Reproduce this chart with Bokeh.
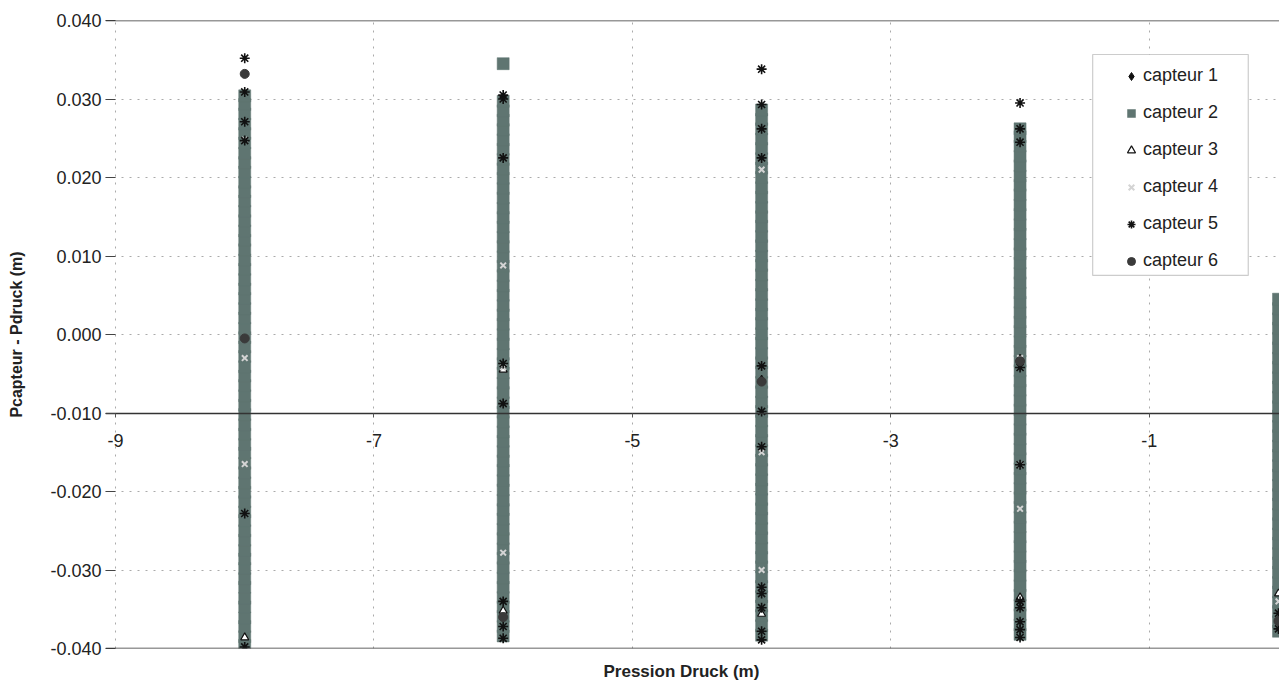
from bokeh.plotting import figure
from bokeh.models import (Range1d, FixedTicker, NumeralTickFormatter, Span,
                          BoxAnnotation, Legend, LegendItem, Title)
from bokeh.embed import file_html
from bokeh.resources import INLINE

# ---------------- data ----------------
columns = [-8, -6, -4, -2, 0]
x_ticks = [-9, -7, -5, -3, -1]
y_ticks = [-0.04, -0.03, -0.02, -0.01, 0.0, 0.01, 0.02, 0.03, 0.04]
series_names = ["capteur 1", "capteur 2", "capteur 3", "capteur 4", "capteur 5", "capteur 6"]

# capteur 1 (diamonds)
cap1_m8 = [-0.0135, -0.0146, 0.0175]
cap1_m6 = [-0.0120, 0.0150]
cap1_m4 = [0.0015, -0.0205]
cap1_m2 = [-0.0100, 0.0120]
cap1_0 = [-0.0250]

# capteur 2 (grey-green squares, dense bands)
cap2_m8 = [-0.0396, -0.0385, -0.0372, -0.0361, -0.0347, -0.0336, -0.0322, -0.0311, -0.0298,
           -0.0286, -0.0275, -0.0262, -0.0250, -0.0237, -0.0226, -0.0213, -0.0201, -0.0189,
           -0.0176, -0.0164, -0.0151, -0.0140, -0.0127, -0.0115, -0.0102, -0.0090, -0.0078,
           -0.0065, -0.0053, -0.0041, -0.0028, -0.0016, -0.0004, 0.0008, 0.0021, 0.0033,
           0.0046, 0.0058, 0.0070, 0.0083, 0.0095, 0.0108, 0.0120, 0.0132, 0.0145, 0.0157,
           0.0170, 0.0182, 0.0194, 0.0207, 0.0219, 0.0231, 0.0244, 0.0256, 0.0268, 0.0281,
           0.0293, 0.0304]
cap2_m6 = [0.0345, -0.0384, -0.0372, -0.0359, -0.0347, -0.0335, -0.0322, -0.0310, -0.0297,
           -0.0285, -0.0273, -0.0260, -0.0248, -0.0235, -0.0223, -0.0211, -0.0198, -0.0186,
           -0.0173, -0.0161, -0.0149, -0.0136, -0.0124, -0.0111, -0.0099, -0.0087, -0.0074,
           -0.0062, -0.0049, -0.0037, -0.0025, -0.0012, 0.0000, 0.0013, 0.0025, 0.0037,
           0.0050, 0.0062, 0.0075, 0.0087, 0.0099, 0.0112, 0.0124, 0.0137, 0.0149, 0.0161,
           0.0174, 0.0186, 0.0199, 0.0211, 0.0223, 0.0236, 0.0248, 0.0261, 0.0273, 0.0285,
           0.0297]
cap2_m4 = [-0.0383, -0.0371, -0.0358, -0.0346, -0.0334, -0.0321, -0.0309, -0.0296, -0.0284,
           -0.0272, -0.0259, -0.0247, -0.0234, -0.0222, -0.0210, -0.0197, -0.0185, -0.0172,
           -0.0160, -0.0148, -0.0135, -0.0123, -0.0110, -0.0098, -0.0086, -0.0073, -0.0061,
           -0.0048, -0.0036, -0.0024, -0.0011, 0.0001, 0.0014, 0.0026, 0.0038, 0.0051,
           0.0063, 0.0076, 0.0088, 0.0100, 0.0113, 0.0125, 0.0138, 0.0150, 0.0162, 0.0175,
           0.0187, 0.0200, 0.0212, 0.0224, 0.0237, 0.0249, 0.0262, 0.0274, 0.0286]
cap2_m2 = [-0.0382, -0.0370, -0.0357, -0.0345, -0.0332, -0.0320, -0.0307, -0.0295, -0.0283,
           -0.0270, -0.0258, -0.0245, -0.0233, -0.0220, -0.0208, -0.0196, -0.0183, -0.0171,
           -0.0158, -0.0146, -0.0133, -0.0121, -0.0108, -0.0096, -0.0084, -0.0071, -0.0059,
           -0.0046, -0.0034, -0.0021, -0.0009, 0.0004, 0.0016, 0.0028, 0.0041, 0.0053,
           0.0066, 0.0078, 0.0091, 0.0103, 0.0115, 0.0128, 0.0140, 0.0153, 0.0165, 0.0178,
           0.0190, 0.0202, 0.0215, 0.0227, 0.0240, 0.0252, 0.0262]
cap2_0 = [-0.0378, -0.0366, -0.0353, -0.0341, -0.0328, -0.0316, -0.0303, -0.0291, -0.0279,
          -0.0266, -0.0254, -0.0241, -0.0229, -0.0216, -0.0204, -0.0192, -0.0179, -0.0167,
          -0.0154, -0.0142, -0.0129, -0.0117, -0.0104, -0.0092, -0.0080, -0.0067, -0.0055,
          -0.0042, -0.0030, -0.0017, -0.0005, 0.0008, 0.0020, 0.0033, 0.0045]

# capteur 3 (open triangles)
cap3_m8 = [-0.0386]
cap3_m6 = [-0.0352, -0.0045]
cap3_m4 = [-0.0058, -0.0356]
cap3_m2 = [-0.0031, -0.0335]
cap3_0 = [-0.0330]

# capteur 4 (light grey crosses)
cap4_m8 = [-0.0165, 0.0248, -0.0030]
cap4_m6 = [-0.0042, -0.0278, 0.0088]
cap4_m4 = [-0.0300, 0.0210, -0.0150]
cap4_m2 = [-0.0166, -0.0222, -0.0030]
cap4_0 = [-0.0340]

# capteur 5 (asterisks)
cap5_m8 = [0.0352, 0.0309, 0.0271, 0.0247, -0.0228, -0.0398]
cap5_m6 = [0.0305, 0.0300, 0.0225, -0.0037, -0.0088, -0.0340, -0.0372, -0.0387]
cap5_m4 = [0.0338, 0.0293, 0.0262, 0.0225, -0.0040, -0.0098, -0.0143, -0.0322, -0.0330,
           -0.0348, -0.0378, -0.0389]
cap5_m2 = [0.0295, 0.0262, 0.0245, -0.0042, -0.0166, -0.0340, -0.0348, -0.0366, -0.0376,
           -0.0386]
cap5_0 = [-0.0355, -0.0375]

# capteur 6 (dark circles)
cap6_m8 = [0.0332, -0.0005]
cap6_m6 = [-0.0360]
cap6_m4 = [-0.0060]
cap6_m2 = [-0.0034]
cap6_0 = [-0.0365]


def stack(col_lists):
    xs, ys = [], []
    for c, vals in zip(columns, col_lists):
        xs += [c] * len(vals)
        ys += list(vals)
    return xs, ys


s1 = stack([cap1_m8, cap1_m6, cap1_m4, cap1_m2, cap1_0])
s2 = stack([cap2_m8, cap2_m6, cap2_m4, cap2_m2, cap2_0])
s3 = stack([cap3_m8, cap3_m6, cap3_m4, cap3_m2, cap3_0])
s4 = stack([cap4_m8, cap4_m6, cap4_m4, cap4_m2, cap4_0])
s5 = stack([cap5_m8, cap5_m6, cap5_m4, cap5_m2, cap5_0])
s6 = stack([cap6_m8, cap6_m6, cap6_m4, cap6_m2, cap6_0])

# ---------------- figure ----------------
FONT = "Liberation Sans"
TXT = "#222222"

p = figure(width=1279, height=692, output_backend="svg", toolbar_location=None,
           x_range=Range1d(-9.0774, 0.0077), y_range=Range1d(-0.04, 0.04),
           min_border_left=105, min_border_right=0, min_border_top=20, min_border_bottom=44)
p.outline_line_color = None
p.background_fill_color = "white"
p.border_fill_color = "white"

# axes
p.xaxis.ticker = FixedTicker(ticks=x_ticks)
p.xaxis.formatter = NumeralTickFormatter(format="0")
p.xaxis.fixed_location = -0.01
p.xaxis.axis_line_color = "#333333"
p.xaxis.axis_line_width = 1.3
p.xaxis.major_tick_out = 4
p.xaxis.major_tick_in = 0
p.xaxis.minor_tick_line_color = None
p.xaxis.major_tick_line_color = "#555555"
p.xaxis.major_label_standoff = 17
p.xaxis.major_label_text_font = FONT
p.xaxis.major_label_text_font_size = "18px"
p.xaxis.major_label_text_color = TXT

p.yaxis.ticker = FixedTicker(ticks=y_ticks)
p.yaxis.formatter = NumeralTickFormatter(format="0.000")
p.yaxis.axis_line_color = None
p.yaxis.major_tick_out = 0
p.yaxis.major_tick_in = 10
p.yaxis.minor_tick_line_color = None
p.yaxis.major_tick_line_color = "#444444"
p.yaxis.major_label_standoff = 4
p.yaxis.major_label_text_font = FONT
p.yaxis.major_label_text_font_size = "18px"
p.yaxis.major_label_text_color = TXT
p.yaxis.axis_label = "Pcapteur - Pdruck (m)"
p.yaxis.axis_label_text_font = FONT
p.yaxis.axis_label_text_font_size = "16px"
p.yaxis.axis_label_text_font_style = "bold"
p.yaxis.axis_label_text_color = TXT
p.yaxis.axis_label_standoff = 22

# grids
for g in (p.xgrid, p.ygrid):
    g.grid_line_color = "#aaaaaa"
    g.grid_line_dash = "2 6"
    g.grid_line_width = 1

# top / bottom frame lines
p.add_layout(Span(location=0.04, dimension="width", line_color="#333333", line_width=1.4))
p.add_layout(Span(location=-0.04, dimension="width", line_color="#333333", line_width=1.4))

# series
r1 = p.scatter(s1[0], s1[1], marker="diamond", size=9, fill_color="#111111", line_color="#111111")
r2 = p.scatter(s2[0], s2[1], marker="square", size=12, fill_color="#5f7571",
               line_color="#5f7571", line_width=0.5)
r3 = p.scatter(s3[0], s3[1], marker="triangle", size=8, fill_color="white",
               line_color="#111111", line_width=1.2)
r4 = p.scatter(s4[0], s4[1], marker="x", size=8, line_color="#d4d4d4", line_width=2)
r5 = p.scatter(s5[0], s5[1], marker="asterisk", size=10, line_color="#111111", line_width=1.6)
r6 = p.scatter(s6[0], s6[1], marker="circle", size=9, fill_color="#3a3a3a", line_color="#3a3a3a")

# x-axis title below the frame
p.add_layout(Title(text="Pression Druck (m)", align="left", offset=498, text_font=FONT,
                   text_font_size="17px", text_font_style="bold", text_color=TXT,
                   standoff=22), "below")

# legend box
p.add_layout(BoxAnnotation(left=-1.438, right=-0.234, top=0.03567, bottom=0.00752,
                           fill_color="white", fill_alpha=1.0,
                           line_color="#555555", line_width=1.2))
legend = Legend(items=[LegendItem(label=n, renderers=[r])
                       for n, r in zip(series_names, [r1, r2, r3, r4, r5, r6])],
                location=(1016, 377), margin=0, padding=11, spacing=16,
                glyph_width=20, glyph_height=20, label_height=20, label_standoff=2,
                label_text_font=FONT, label_text_font_size="18px", label_text_color=TXT,
                border_line_color=None, background_fill_alpha=0)
p.add_layout(legend)

open("out.html", "w").write(file_html(p, INLINE))
